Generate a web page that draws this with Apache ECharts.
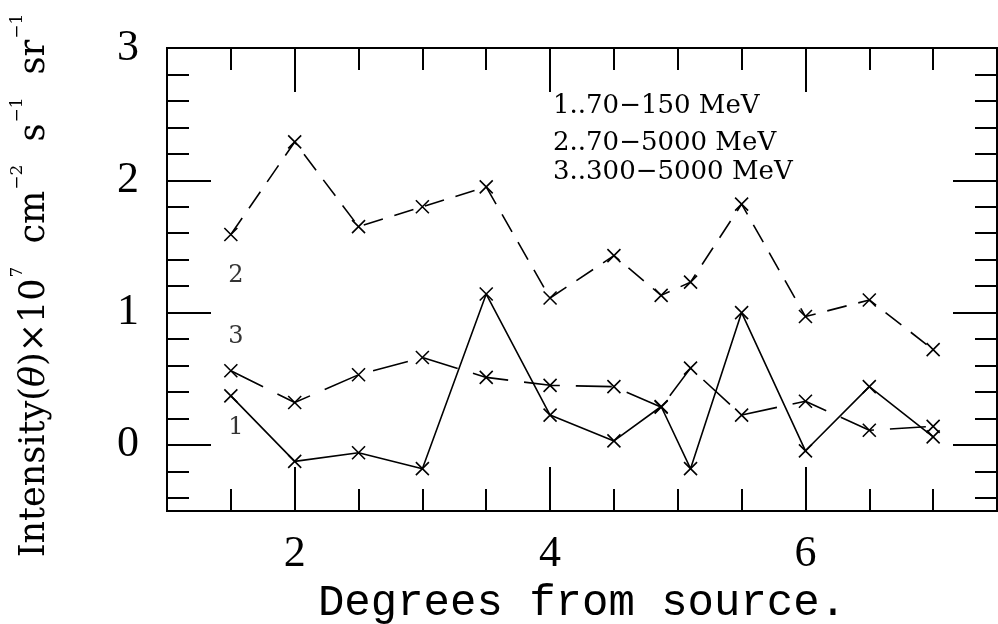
<!DOCTYPE html>
<html>
<head>
<meta charset="utf-8">
<script src="https://cdn.jsdelivr.net/npm/echarts@6/dist/echarts.min.js"></script>
<style>
  html, body { margin: 0; padding: 0; background: #fff; }
  #chart { width: 998px; height: 624px; }
</style>
</head>
<body>
<div id="chart"></div>
<script>
// Angular distance from the source (degrees)
const degrees = [1.5, 2, 2.5, 3, 3.5, 4, 4.5, 4.87, 5.1, 5.5, 6, 6.5, 7];

// Intensity (x 10^7 cm^-2 s^-1 sr^-1) per energy band
const band70to150 = [0.37, -0.125, -0.06, -0.18, 1.14, 0.225, 0.03, 0.29, -0.18, 1.0, -0.045, 0.44, 0.06];
const band70to5000 = [1.59, 2.29, 1.65, 1.80, 1.95, 1.11, 1.43, 1.13, 1.23, 1.82, 0.97, 1.095, 0.72];
const band300to5000 = [0.56, 0.32, 0.53, 0.66, 0.51, 0.45, 0.44, 0.285, 0.58, 0.225, 0.33, 0.11, 0.14];

// Tick positions
const xMajorTicks = [2, 4, 6];
const xMinorTicks = [1.5, 2.5, 3, 3.5, 4.5, 5, 5.5, 6.5, 7];
const yMajorTicks = [0, 1, 2, 3];
const yMinorTicks = [-0.4, -0.2, 0.2, 0.4, 0.6, 0.8, 1.2, 1.4, 1.6, 1.8, 2.2, 2.4, 2.6, 2.8];

// Key text and curve tags
const keyLines = ['1..70\u2212150 MeV', '2..70\u22125000 MeV', '3..300\u22125000 MeV'];
const curveTags = [
  { tag: '1', x: 1.54, y: 0.13 },
  { tag: '2', x: 1.54, y: 1.28 },
  { tag: '3', x: 1.54, y: 0.82 }
];

const SERIF = '"Liberation Serif", "DejaVu Serif", serif';
const DSERIF = '"DejaVu Serif", "Liberation Serif", serif';
const MONO = '"Liberation Mono", "DejaVu Sans Mono", monospace';
const INK = '#000';
const crossSymbol = 'path://M0,0L10,10M10,0L0,10';

function pairs(ys) { return degrees.map((d, i) => [d, ys[i]]); }

function xAxisDef(position, ticks, len, withLabels) {
  return {
    type: 'value', position: position, min: 1, max: 7.5,
    axisLine: { show: true, onZero: false, lineStyle: { color: INK, width: 2 } },
    axisTick: { show: true, inside: true, length: len, customValues: ticks, lineStyle: { color: INK, width: 2 } },
    axisLabel: withLabels
      ? { show: true, customValues: xMajorTicks, margin: 21, color: INK, fontFamily: SERIF, fontSize: 44 }
      : { show: false },
    splitLine: { show: false }
  };
}
function yAxisDef(position, ticks, len, withLabels) {
  return {
    type: 'value', position: position, min: -0.5, max: 3,
    axisLine: { show: true, onZero: false, lineStyle: { color: INK, width: 2 } },
    axisTick: { show: true, inside: true, length: len, customValues: ticks, lineStyle: { color: INK, width: 2 } },
    axisLabel: withLabels
      ? { show: true, customValues: yMajorTicks, margin: 28, color: INK, fontFamily: SERIF, fontSize: 44 }
      : { show: false },
    splitLine: { show: false }
  };
}

const xBottom = xAxisDef('bottom', xMajorTicks, 44, true);
xBottom.name = 'Degrees from source.';
xBottom.nameLocation = 'middle';
xBottom.nameGap = 70;
xBottom.nameTextStyle = { color: INK, fontFamily: MONO, fontSize: 44 };

const yLeft = yAxisDef('left', yMajorTicks, 44, true);
yLeft.name = '{m|Intensity(}{it|\u03b8}{m|)\u00d710}{sup|7}{m| cm}{sup|\u22122}{m| s}{sup|\u22121}{m| sr}{sup|\u22121}';
yLeft.nameLocation = 'middle';
yLeft.nameGap = 106;
yLeft.nameTextStyle = {
  color: INK, fontFamily: DSERIF, fontSize: 35,
  padding: [0, 0, 0, 0],
  rich: {
    m: { fontFamily: DSERIF, fontSize: 35, color: INK, lineHeight: 52 },
    it: { fontFamily: DSERIF, fontSize: 35, fontStyle: 'italic', color: INK, lineHeight: 52 },
    sup: { fontFamily: DSERIF, fontSize: 17, color: INK, verticalAlign: 'top', lineHeight: 20, padding: [0, 12, 0, 1] }
  }
};

function bandSeries(name, ys, dash) {
  return {
    name: name, type: 'line', xAxisIndex: 0, yAxisIndex: 0,
    data: pairs(ys),
    symbol: crossSymbol, symbolSize: 13,
    itemStyle: { color: INK, borderColor: INK, borderWidth: 1.6 },
    lineStyle: { color: INK, width: 1.6, type: dash },
    emphasis: { disabled: true },
    animation: false
  };
}

const s1 = bandSeries('70-150 MeV', band70to150, 'solid');
const s2 = bandSeries('70-5000 MeV', band70to5000, [20, 12]);
const s3 = bandSeries('300-5000 MeV', band300to5000, [36, 16]);

// curve tags drawn in data coordinates
const tagSeries = {
  type: 'scatter', xAxisIndex: 0, yAxisIndex: 0,
  data: curveTags.map(t => ({ value: [t.x, t.y], tag: t.tag })),
  symbolSize: 0,
  label: {
    show: true, position: 'inside', color: INK, fontFamily: DSERIF, fontSize: 24,
    formatter: p => p.data.tag
  },
  emphasis: { disabled: true },
  silent: true,
  animation: false
};

const chart = echarts.init(document.getElementById('chart'), null, { renderer: 'canvas' });
chart.setOption({
  backgroundColor: '#fff',
  animation: false,
  grid: { left: 167, right: 1, top: 48, bottom: 113, containLabel: false, outerBoundsMode: 'none' },
  xAxis: [
    xBottom,
    xAxisDef('bottom', xMinorTicks, 22, false),
    xAxisDef('top', xMajorTicks, 44, false),
    xAxisDef('top', xMinorTicks, 22, false)
  ],
  yAxis: [
    yLeft,
    yAxisDef('left', yMinorTicks, 22, false),
    yAxisDef('right', yMajorTicks, 44, false),
    yAxisDef('right', yMinorTicks, 22, false)
  ],
  series: [s1, s2, s3, tagSeries],
  graphic: keyLines.map((txt, i) => ({
    type: 'text', left: 553, top: [93, 130, 159][i],
    style: { text: txt, fill: INK, font: '26px ' + DSERIF }
  }))
});
</script>
</body>
</html>
